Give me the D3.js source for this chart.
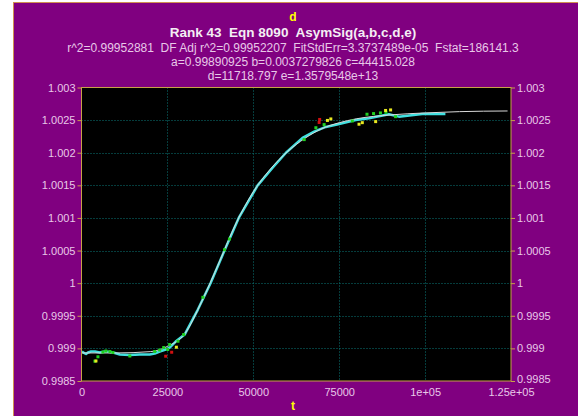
<!DOCTYPE html>
<html><head><meta charset="utf-8">
<script src="https://cdn.jsdelivr.net/npm/d3@7"></script>
<style>html,body{margin:0;padding:0;background:#fff;}svg{display:block;}</style>
</head><body>
<svg id="c" width="578" height="416"></svg>
<script>
// ---- data ----
const titleTop = "d";
const titleMain = "Rank 43  Eqn 8090  AsymSig(a,b,c,d,e)";
const statLines = [
  "r^2=0.99952881  DF Adj r^2=0.99952207  FitStdErr=3.3737489e-05  Fstat=186141.3",
  "a=0.99890925 b=0.0037279826 c=44415.028",
  "d=11718.797 e=1.3579548e+13"
];
const xAxisTitle = "t";
const xTickValues = [0, 25000, 50000, 75000, 100000, 125000];
const xTickLabels = ["0", "25000", "50000", "75000", "1e+05", "1.25e+05"];
const yTickValues = [1.003, 1.0025, 1.002, 1.0015, 1.001, 1.0005, 1.0, 0.9995, 0.999, 0.9985];
const yTickLabels = ["1.003", "1.0025", "1.002", "1.0015", "1.001", "1.0005", "1", "0.9995", "0.999", "0.9985"];

// measured data (cyan)
const dataT = [145, 725, 1305, 1885, 2755, 3915, 5365, 6815, 8265, 9715, 11165, 14065, 16965, 19865,
  21315, 22765, 24505, 25665, 27405, 30015, 33870, 37550, 41615, 45760, 51270, 55620, 59510,
  64320, 67720, 71110, 74680, 79810, 83670, 89470, 92370, 99130, 105910];
const dataY = [0.998952, 0.99893, 0.998914, 0.998937, 0.998952, 0.998952, 0.998937, 0.998952, 0.998944,
  0.99893, 0.998907, 0.998899, 0.998907, 0.998907, 0.998922, 0.998952, 0.998983, 0.999013, 0.999105,
  0.999212, 0.999595, 1.0000, 1.0005, 1.001, 1.0015, 1.00177, 1.002, 1.002227, 1.002324, 1.002395,
  1.002437, 1.0025, 1.00253, 1.00259, 1.002553, 1.002594, 1.002594];

// fitted curve (thin light line)
const fitT = [0, 10000, 20000, 25000, 30000, 35000, 40000, 45000, 50000, 55000, 60000, 65000, 70000,
  75000, 80000, 90000, 100000, 110000, 124000];
const fitY = [0.99893, 0.99893, 0.99895, 0.99903, 0.99922, 0.99972, 1.00031, 1.00092, 1.0014, 1.00175,
  1.00202, 1.00222, 1.00237, 1.00246, 1.00252, 1.00258, 1.00261, 1.00263, 1.00264];

// coloured outlying points
const greenT = [3915, 4785, 6235, 7105, 8265, 9135, 14065, 21315, 22765, 23925, 25085, 25665, 28075, 29725,
  35325, 41615, 43065, 64815, 68210, 70615, 78825, 83085, 85000, 87000, 88595, 91410];
const greenY = [0.998804, 0.998871, 0.998944, 0.99896, 0.998952, 0.998937, 0.998883, 0.998952, 0.998975,
  0.999013, 0.998983, 0.999059, 0.99911, 0.999212, 0.999783, 1.000513, 1.000677, 1.002201, 1.002383,
  1.002431, 1.002487, 1.00259, 1.0026, 1.00261, 1.00262, 1.002553];
const yellowT = [4205, 27610, 71575, 72560, 80765, 81725, 85610, 88500, 89960];
const yellowY = [0.998807, 0.999018, 1.002495, 1.002518, 1.002437, 1.002461, 1.002477, 1.002648, 1.002656];
const redT = [24505, 26245, 69310, 69165];
const redY = [0.99888, 0.998941, 1.00251, 1.002464];

// ---- drawing ----
const svg = d3.select("#c");
const W = 578, H = 416;
const plot = {l: 81.5, r: 511, t: 87.5, b: 381};
const x = d3.scaleLinear().domain([0, 125000]).range([plot.l, plot.r]);
const y = d3.scaleLinear().domain([0.9985, 1.003]).range([plot.b, plot.t]);

const purple = "#800080", gold = "#c8a048", labelCol = "#e8c8e8";
const font = "'Liberation Sans', Arial, sans-serif";

// frame
svg.append("rect").attr("x", 13.5).attr("y", 2.5).attr("width", W).attr("height", H)
  .attr("fill", purple).attr("stroke", "#d09050").attr("stroke-width", 1);

// titles
svg.append("text").attr("x", 293).attr("y", 21).attr("text-anchor", "middle")
  .attr("font-family", font).attr("font-size", 12).attr("font-weight", "bold")
  .attr("fill", "#ffff00").text(titleTop);
svg.append("text").attr("x", 293).attr("y", 37).attr("text-anchor", "middle")
  .attr("font-family", font).attr("font-size", 13.5).attr("font-weight", "bold")
  .attr("fill", "#f4eef4").style("white-space", "pre").text(titleMain);
statLines.forEach((s, i) => {
  svg.append("text").attr("x", 293).attr("y", 51.5 + i * 14).attr("text-anchor", "middle")
    .attr("font-family", font).attr("font-size", 12).attr("fill", labelCol)
    .style("white-space", "pre").text(s);
});

// plot background
svg.append("rect").attr("x", plot.l).attr("y", plot.t)
  .attr("width", plot.r - plot.l).attr("height", plot.b - plot.t).attr("fill", "#000");

// grid
const grid = svg.append("g").attr("stroke", "#0a7878").attr("stroke-width", 1).attr("stroke-dasharray", "1,2");
xTickValues.slice(1, -1).forEach(v => grid.append("line")
  .attr("x1", Math.round(x(v)) + 0.5).attr("x2", Math.round(x(v)) + 0.5)
  .attr("y1", plot.t).attr("y2", plot.b));
yTickValues.slice(1, -1).forEach(v => grid.append("line")
  .attr("x1", plot.l).attr("x2", plot.r)
  .attr("y1", Math.round(y(v)) + 0.5).attr("y2", Math.round(y(v)) + 0.5));

// axes
const fmtX = d => xTickLabels[xTickValues.indexOf(d)];
const fmtY = d => yTickLabels[yTickValues.indexOf(d)];
const styleAxis = g => {
  g.select(".domain").remove();
  g.selectAll("line").attr("stroke", gold);
  g.selectAll("text").attr("fill", labelCol).attr("font-family", font).attr("font-size", 11);
};
svg.append("g").attr("transform", `translate(0,${plot.b})`)
  .call(d3.axisBottom(x).tickValues(xTickValues).tickFormat(fmtX).tickSize(0).tickPadding(7))
  .call(styleAxis);
svg.append("g").attr("transform", `translate(${plot.l},0)`)
  .call(d3.axisLeft(y).tickValues(yTickValues).tickFormat(fmtY).tickSize(4).tickPadding(2))
  .call(styleAxis);
const rightAxis = svg.append("g").attr("transform", `translate(${plot.r},0)`)
  .call(d3.axisRight(y).tickValues(yTickValues).tickFormat(fmtY).tickSize(4).tickPadding(2))
  .call(styleAxis);
// nudge the lowest right label up slightly so it clears the last x label
rightAxis.selectAll(".tick").filter(d => d === 0.9985).select("text").attr("dy", "0.1em");

// curves
const lineGen = d3.line().x(d => x(d[0])).y(d => y(d[1]));
svg.append("path").datum(dataT.map((t, i) => [t, dataY[i]]))
  .attr("d", lineGen).attr("fill", "none").attr("stroke", "#40e0e0").attr("stroke-width", 2.5)
  .attr("stroke-linejoin", "round");
svg.append("path").datum(fitT.map((t, i) => [t, fitY[i]]))
  .attr("d", d3.line().curve(d3.curveMonotoneX).x(d => x(d[0])).y(d => y(d[1])))
  .attr("fill", "none").attr("stroke", "#d8d8d8").attr("stroke-width", 1);

// coloured points
function pts(T, Y, col) {
  svg.append("g").selectAll("rect").data(T.map((t, i) => [t, Y[i]])).join("rect")
    .attr("x", d => x(d[0]) - 1.5).attr("y", d => y(d[1]) - 1.5)
    .attr("width", 3).attr("height", 3).attr("fill", col);
}
pts(greenT, greenY, "#20d020");
pts(yellowT, yellowY, "#e8e820");
pts(redT, redY, "#d01010");

// plot border
svg.append("rect").attr("x", plot.l).attr("y", plot.t)
  .attr("width", plot.r - plot.l).attr("height", plot.b - plot.t)
  .attr("fill", "none").attr("stroke", gold).attr("stroke-width", 1);

// x axis title
svg.append("text").attr("x", 293).attr("y", 410).attr("text-anchor", "middle")
  .attr("font-family", font).attr("font-size", 12).attr("font-weight", "bold")
  .attr("fill", "#ffff00").text(xAxisTitle);
</script>
</body></html>
